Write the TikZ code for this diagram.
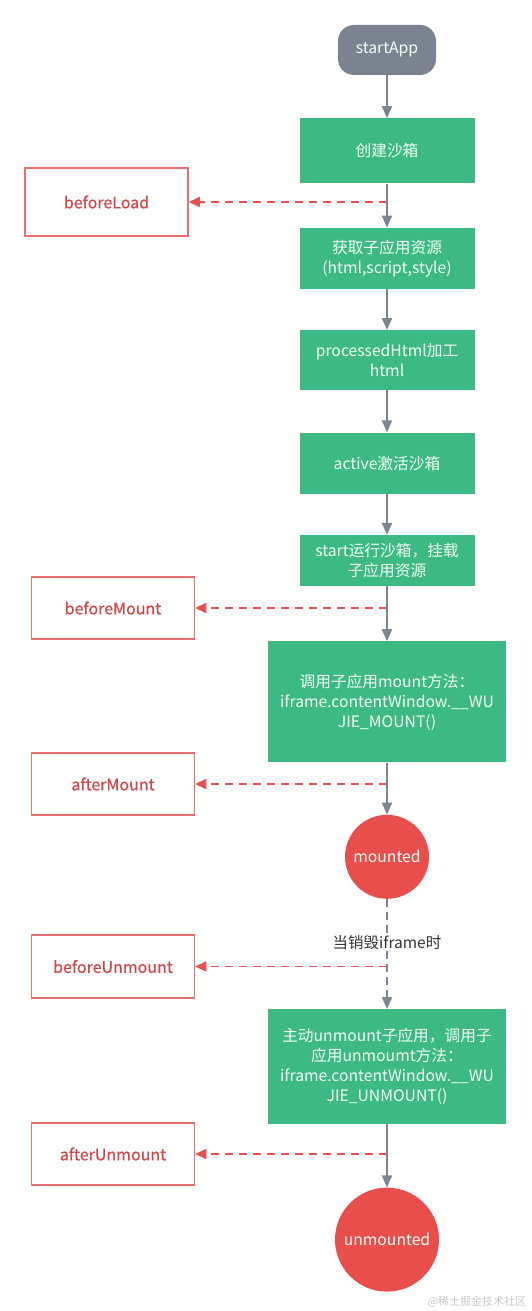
\documentclass[tikz,border=0pt]{standalone}
\usepackage{fontspec}
\setmainfont{Noto Sans CJK SC}
\newfontfamily\hookfont[FakeBold=0.5]{Noto Sans CJK SC}
\usetikzlibrary{arrows.meta, positioning}
\definecolor{flowgreen}{HTML}{3DB983}
\definecolor{startgray}{HTML}{7B8391}
\definecolor{arrowgray}{HTML}{7D8595}
\definecolor{statered}{HTML}{E84E4B}
\definecolor{hookborder}{HTML}{E87070}
\definecolor{hooktext}{HTML}{D0474A}
\definecolor{dashred}{HTML}{E94F4F}
\definecolor{boxtext}{HTML}{F2FFF6}
\tikzset{
    process/.style={rectangle, fill=flowgreen, text=boxtext, minimum width=175pt, align=center, inner sep=0pt, font=\fontsize{15.7}{20}\selectfont},
    wide process/.style={process, minimum width=237.5pt},
    terminal/.style={rectangle, rounded corners=16pt, fill=startgray, text=boxtext, minimum width=98pt, minimum height=50pt, font=\fontsize{15.7}{20}\selectfont},
    state/.style={circle, fill=statered, text=boxtext, inner sep=0pt, font=\fontsize{15.7}{20}\selectfont},
    hook/.style={rectangle, draw=hookborder, line width=1.5pt, fill=white, minimum width=163pt, minimum height=62pt, text=hooktext, font=\hookfont\fontsize{16}{20}\selectfont},
    line/.style={draw=arrowgray, line width=2pt, -{Triangle[width=10pt,length=12pt]}},
    hookline/.style={draw=dashred, line width=1.5pt, dash pattern=on 8pt off 6pt, -{Triangle[width=10pt,length=11pt]}},
    edgelabel/.style={fill=white, text=black!80, inner sep=1pt, font=\fontsize{15.5}{20}\selectfont},
    watermark/.style={text=black!22, inner sep=0pt, font=\fontsize{11}{13}\selectfont}
}
\begin{document}
\begin{tikzpicture}[x=1pt, y=-1pt, node distance=42pt]
    \useasboundingbox (0,0) rectangle (531,1311);

    % Main lifecycle
    \node [terminal] (startApp) at (387,50) {startApp};
    \node [process, minimum height=65pt, below=43pt of startApp] (createSandbox) {创建沙箱};
    \node [process, minimum height=61pt, below=44pt of createSandbox] (fetchRes) {获取子应用资源\\(html,script,style)};
    \node [process, minimum height=60pt, below=41pt of fetchRes] (processHtml) {processedHtml加工\\html};
    \node [process, minimum height=61pt, below=42pt of processHtml] (activeSandbox) {active激活沙箱};
    \node [process, minimum height=51pt, below=41pt of activeSandbox] (startSandbox) {start运行沙箱，挂载\\子应用资源};
    \node [wide process, minimum height=121pt, below=55pt of startSandbox] (callMount) {调用子应用mount方法：\\iframe.contentWindow.\_\_WU\\JIE\_MOUNT()};
    \node [state, minimum size=84pt, below=52pt of callMount] (mounted) {mounted};
    \node [wide process, minimum height=115pt, below=110pt of mounted] (callUnmount) {主动unmount子应用，调用子\\应用unmoumt方法：\\iframe.contentWindow.\_\_WU\\JIE\_UNMOUNT()};
    \node [state, minimum size=104pt, below=63pt of callUnmount] (unmounted) {unmounted};

    % Hooks
    \node [hook, minimum height=68pt] (beforeLoad) at (106.5,202) {beforeLoad};
    \node [hook] (beforeMount) at (113,608) {beforeMount};
    \node [hook] (afterMount) at (113,784) {afterMount};
    \node [hook, minimum height=63pt] (beforeUnmount) at (113,966.5) {beforeUnmount};
    \node [hook] (afterUnmount) at (113,1154) {afterUnmount};

    \draw [hookline] (createSandbox |- beforeLoad) -- (beforeLoad);
    \draw [hookline] (startSandbox |- beforeMount) -- (beforeMount);
    \draw [hookline] (callMount |- afterMount) -- (afterMount);
    \draw [hookline] (mounted |- beforeUnmount) -- (beforeUnmount);
    \draw [hookline] (callUnmount |- afterUnmount) -- (afterUnmount);

    \draw [line] (startApp) -- (createSandbox);
    \draw [line] (createSandbox) -- (fetchRes);
    \draw [line] (fetchRes) -- (processHtml);
    \draw [line] (processHtml) -- (activeSandbox);
    \draw [line] (activeSandbox) -- (startSandbox);
    \draw [line] (startSandbox) -- (callMount);
    \draw [line] (callMount) -- (mounted);
    \draw [line, dash pattern=on 8pt off 5pt] (mounted) -- node [edgelabel, pos=0.4] (destroyLabel) {当销毁iframe时} (callUnmount);
    \draw [line] (callUnmount) -- (unmounted);

    \node [watermark] (credit) at (477,1302) {@稀土掘金技术社区};

\end{tikzpicture}
\end{document}
